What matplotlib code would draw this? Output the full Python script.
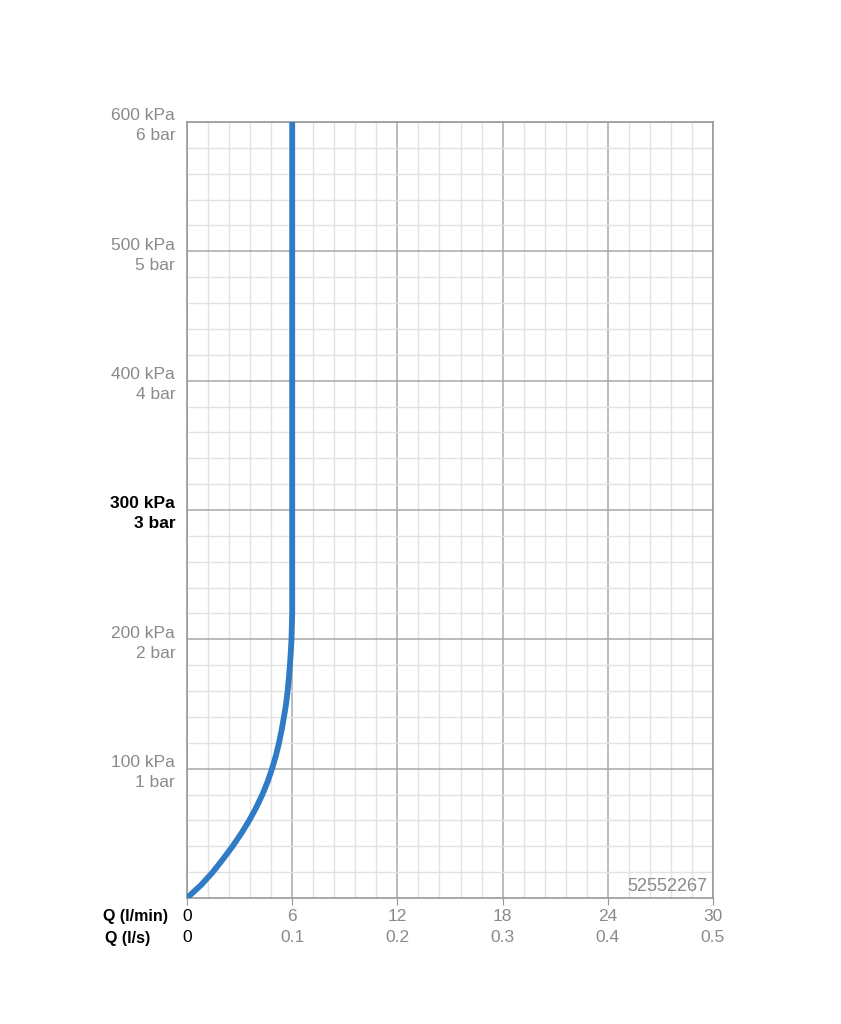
import numpy as np
import matplotlib
matplotlib.use("Agg")
import matplotlib.pyplot as plt
from matplotlib.ticker import MultipleLocator

plt.rcParams['font.family'] = ['Liberation Sans', 'DejaVu Sans']

# --- DATA ---
flow_lpm = [0, 0.4, 0.8, 1.47, 2.05, 2.6, 3.1, 3.55, 3.95, 4.3, 4.6, 4.85, 5.07, 5.25,
            5.4, 5.53, 5.65, 5.74, 5.81, 5.87, 5.92, 5.96, 6.0, 6.0]
pressure_kpa = [0, 5, 10, 20, 30, 40, 50, 60, 70, 80, 90, 100, 110, 120,
                130, 140, 150, 160, 170, 180, 190, 200, 220, 600]

x_ticks = [0, 6, 12, 18, 24, 30]
x_labels_lpm = ["0", "6", "12", "18", "24", "30"]
x_labels_ls = ["0", "0.1", "0.2", "0.3", "0.4", "0.5"]
y_ticks = [100, 200, 300, 400, 500, 600]
y_labels = ["100 kPa\n1 bar", "200 kPa\n2 bar", "300 kPa\n3 bar",
            "400 kPa\n4 bar", "500 kPa\n5 bar", "600 kPa\n6 bar"]
code = "52552267"

GRAY = "#8a8a8a"
BLUE = "#2f7bc6"

fig = plt.figure(figsize=(8.41, 10.24), dpi=100)
ax = fig.add_axes([187 / 841, 126 / 1024, 526 / 841, 776 / 1024])

ax.set_xlim(0, 30)
ax.set_ylim(0, 600)

# mřížka
ax.xaxis.set_minor_locator(MultipleLocator(1.2))
ax.yaxis.set_minor_locator(MultipleLocator(20))
ax.grid(which='minor', color='#e2e2e2', linewidth=1.0)
ax.grid(which='major', color='#a8a8a8', linewidth=1.1)
ax.set_axisbelow(True)
for s in ax.spines.values():
    s.set_color('#999999')
    s.set_linewidth(1.2)

ax.plot(flow_lpm, pressure_kpa, color=BLUE, linewidth=4.2,
        solid_capstyle='butt', solid_joinstyle='round', zorder=3)

# osa Y
ax.set_yticks(y_ticks)
ax.set_yticklabels(y_labels, fontsize=12.5, color=GRAY, ha='right', linespacing=1.4)
ax.tick_params(axis='y', which='both', length=0, pad=8.5)
for lab in ax.get_yticklabels():
    if lab.get_text().startswith("300"):
        lab.set_fontweight('bold')
        lab.set_color('black')

# osa X - dva řádky
ax.set_xticks(x_ticks)
ax.set_xticklabels([f"{a}\n{b}" for a, b in zip(x_labels_lpm, x_labels_ls)],
                   fontsize=12.5, color=GRAY, linespacing=1.45)
ax.tick_params(axis='x', which='major', length=5, color='#999999', pad=3)
ax.tick_params(axis='x', which='minor', length=0)
ax.get_xticklabels()[0].set_color('black')

fig.text(168 / 841, 1 - 917 / 1024, "Q (l/min)", fontsize=11.5, fontweight='bold',
         ha='right', va='center')
fig.text(150 / 841, 1 - 939 / 1024, "Q (l/s)", fontsize=11.5, fontweight='bold',
         ha='right', va='center')

ax.text(0.99, 0.004, code, transform=ax.transAxes, fontsize=13, color=GRAY,
        ha='right', va='bottom')

fig.savefig('out.png', dpi=100, facecolor='white')
